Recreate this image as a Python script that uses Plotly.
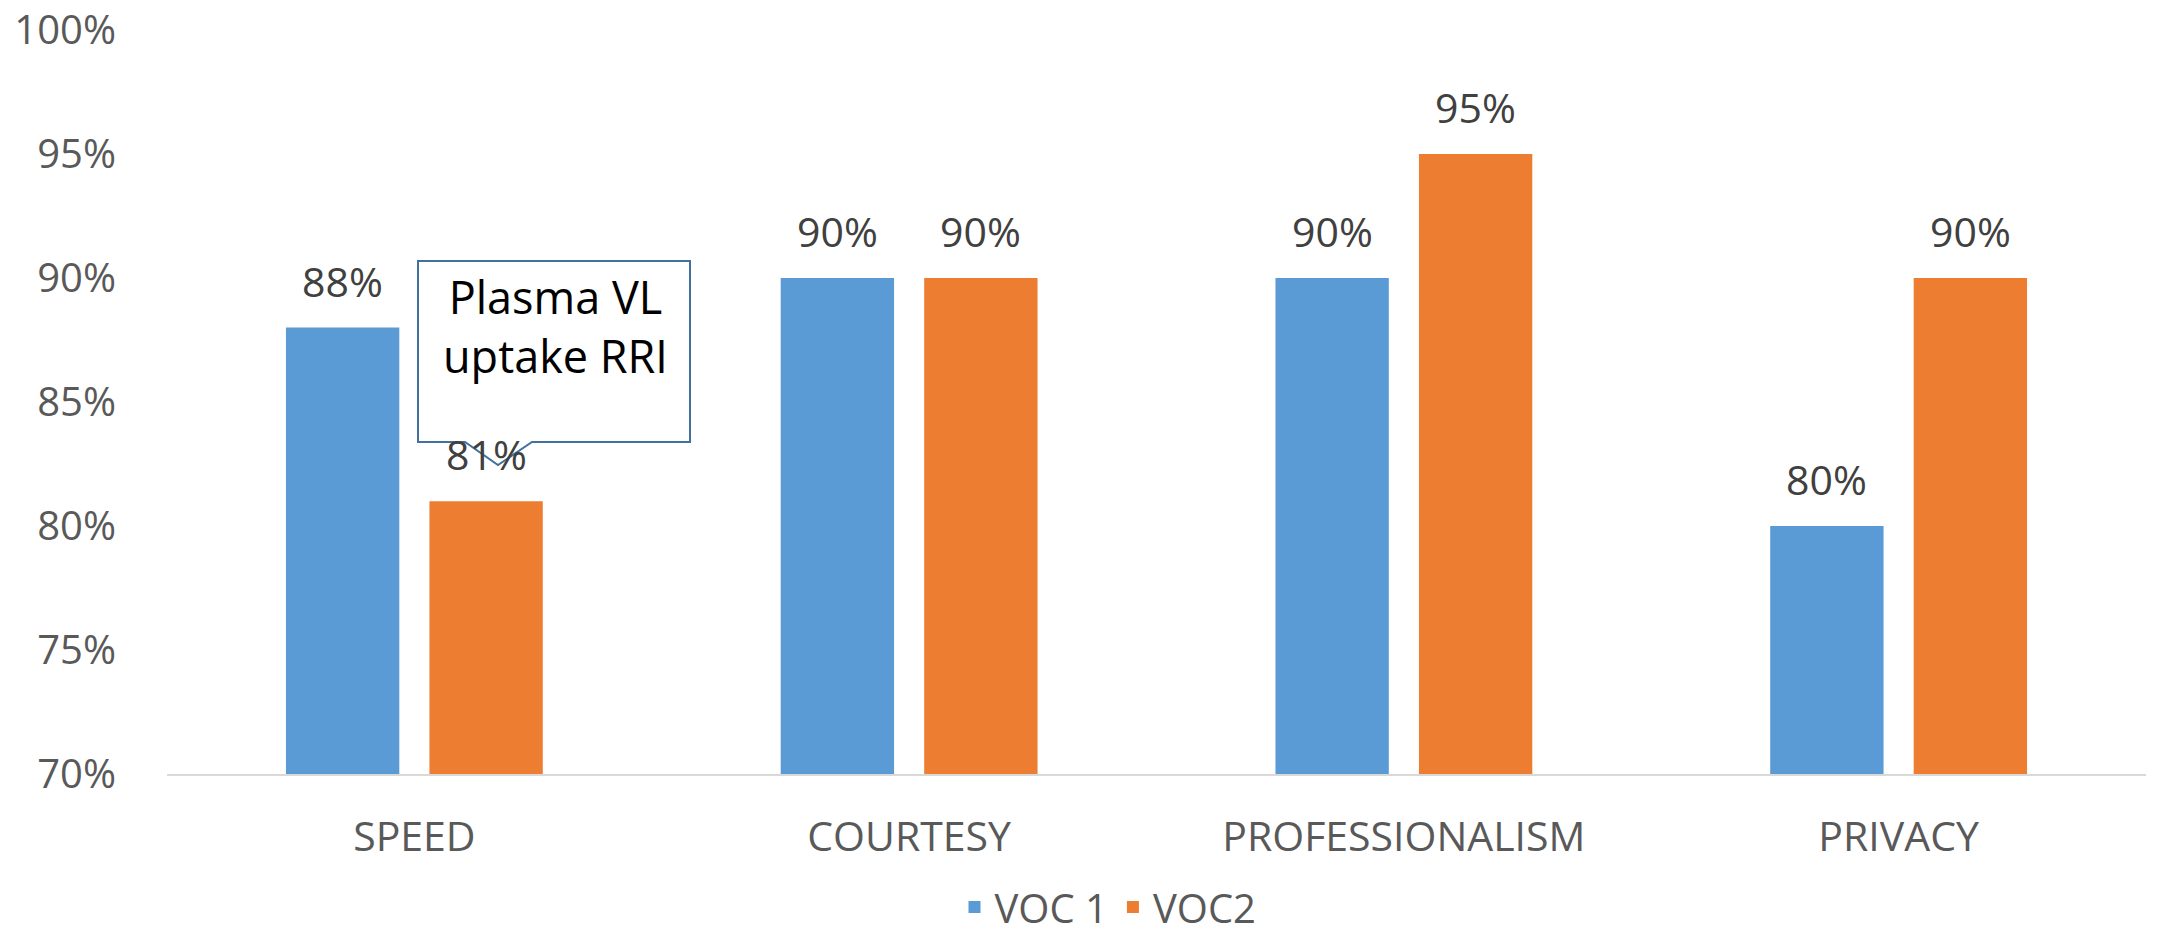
import plotly.graph_objects as go

categories = ["SPEED", "COURTESY", "PROFESSIONALISM", "PRIVACY"]
voc1 = [0.88, 0.90, 0.90, 0.80]
voc2 = [0.81, 0.90, 0.95, 0.90]
series_names = ["VOC 1", "VOC2"]
colors = ["#5B9BD5", "#ED7D31"]
y_ticks = [0.70, 0.75, 0.80, 0.85, 0.90, 0.95, 1.00]
y_tick_labels = ["70%", "75%", "80%", "85%", "90%", "95%", "100%"]
callout_text = "Plasma VL<br>uptake RRI"

FONT = "Open Sans"
TXT = "#595959"
W, H = 2178, 936
L, R, T, B = 167, 32, 30, 162

fig = go.Figure()
for name, vals, col in zip(series_names, [voc1, voc2], colors):
    fig.add_trace(go.Bar(x=categories, y=vals, name=name, marker_color=col,
                         marker_line_width=0))

# data labels above bars
slot_px = (W - L - R) / len(categories) * (1 - 0.42) / 2
for si, vals in enumerate([voc1, voc2]):
    shift = (si - 0.5) * slot_px
    for c, v in zip(categories, vals):
        fig.add_annotation(x=c, y=v, xref="x", yref="y", text=f"{round(v*100)}%",
                           showarrow=False, xshift=shift, yshift=17, yanchor="bottom",
                           font=dict(family=FONT, size=41, color="#404040"))

# callout box (paper coords)
pw, ph = W - L - R, H - T - B
def px(x): return (x - L) / pw
def py(y): return (H - B - y) / ph
x0, x1, yt, yb = px(418), px(690), py(261), py(442)
bx1, bx2, tx, ty = px(465), px(532), px(498), py(465)
path = (f"M{x0},{yt} L{x1},{yt} L{x1},{yb} L{bx2},{yb} L{tx},{ty} "
        f"L{bx1},{yb} L{x0},{yb} Z")
fig.add_shape(type="path", path=path, xref="paper", yref="paper",
              fillcolor="white", line=dict(color="#41719C", width=2), layer="above")
fig.add_annotation(x=px(555), y=py(326), xref="paper", yref="paper",
                   xanchor="center", yanchor="middle",
                   text=callout_text, showarrow=False,
                   font=dict(family=FONT, size=45, color="black"))

fig.update_layout(
    width=W, height=H,
    margin=dict(l=L, r=R, t=T, b=B, autoexpand=False),
    paper_bgcolor="white", plot_bgcolor="white",
    barmode="group", bargap=0.42, bargroupgap=0.21,
    font=dict(family=FONT, size=38, color=TXT),
    showlegend=True,
    legend=dict(orientation="h", x=px(1108), xanchor="center", y=py(907),
                yanchor="middle", font=dict(family=FONT, size=40, color=TXT),
                borderwidth=0, bgcolor="rgba(0,0,0,0)"),
    xaxis=dict(showline=True, linecolor="#D9D9D9", linewidth=2, showgrid=False,
               ticks="outside", ticklen=26, tickcolor="rgba(0,0,0,0)",
               tickfont=dict(family=FONT, size=41, color=TXT)),
    yaxis=dict(range=[0.70, 1.00], tickvals=y_ticks, ticktext=y_tick_labels,
               showgrid=False, zeroline=False, showline=False, ticks="outside",
               ticklen=42, tickcolor="rgba(0,0,0,0)", ticklabeloverflow="allow",
               tickfont=dict(family=FONT, size=40, color=TXT)),
)

fig.write_html("out.html")
